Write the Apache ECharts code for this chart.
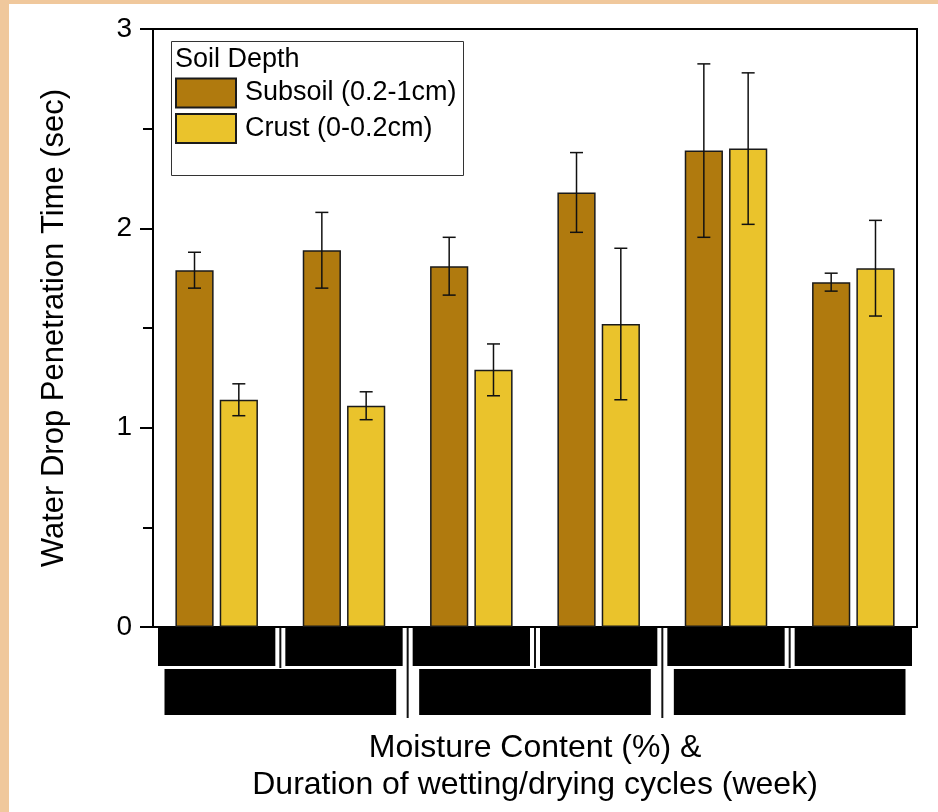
<!DOCTYPE html>
<html>
<head>
<meta charset="utf-8">
<script src="https://cdn.jsdelivr.net/npm/echarts@6/dist/echarts.min.js"></script>
<style>
  html, body { margin: 0; padding: 0; background: #ffffff; }
  #wrap { position: relative; width: 938px; height: 812px; background: #ffffff; overflow: hidden; }
  #stripTop { position: absolute; left: 0; top: 0; width: 938px; height: 4px; background: #F0C89C; }
  #stripLeft { position: absolute; left: 0; top: 0; width: 9px; height: 812px; background: #F0C89C; }
  #chart { position: absolute; left: 0; top: 0; width: 938px; height: 812px; }
</style>
</head>
<body>
<div id="wrap">
  <div id="stripTop"></div>
  <div id="stripLeft"></div>
  <div id="chart"></div>
</div>
<script>
// ---- data (category labels are obscured in the reference) ----
const categories = ['A1', 'A2', 'B1', 'B2', 'C1', 'C2'];
const groupLabels = ['A', 'B', 'C'];
const seriesNames = ['Subsoil (0.2-1cm)', 'Crust (0-0.2cm)'];
const subsoil = [1.79, 1.89, 1.81, 2.18, 2.39, 1.73];
const subsoilErr = [0.09, 0.19, 0.145, 0.20, 0.435, 0.045];
const crust = [1.14, 1.11, 1.29, 1.52, 2.40, 1.80];
const crustErr = [0.08, 0.07, 0.13, 0.38, 0.38, 0.24];
const yTicks = [0, 1, 2, 3];

const FONT = '"Liberation Sans", Arial, Helvetica, sans-serif';
const C_SUB = '#B07A0E';
const C_CRU = '#EAC32C';
const BAR_W = 0.30, BAR_GAP = 0.16;

const chart = echarts.init(document.getElementById('chart'), null, { renderer: 'canvas' });

function errSeries(vals, errs, sign) {
  return {
    type: 'custom',
    z: 5,
    silent: true,
    encode: { x: 0, y: 1 },
    data: vals.map((v, i) => [i, v, errs[i]]),
    renderItem: function (params, api) {
      const x = api.value(0), v = api.value(1), e = api.value(2);
      const band = api.size([1, 0])[0];
      const off = sign * band * BAR_W * (1 + BAR_GAP) / 2;
      const t = api.coord([x, v + e]);
      const b = api.coord([x, v - e]);
      const cx = t[0] + off;
      const cap = 6.5;
      const st = { stroke: '#111', lineWidth: 1.5 };
      return {
        type: 'group',
        children: [
          { type: 'line', shape: { x1: cx, y1: t[1], x2: cx, y2: b[1] }, style: st },
          { type: 'line', shape: { x1: cx - cap, y1: t[1], x2: cx + cap, y2: t[1] }, style: st },
          { type: 'line', shape: { x1: cx - cap, y1: b[1], x2: cx + cap, y2: b[1] }, style: st }
        ]
      };
    }
  };
}

const option = {
  animation: false,
  backgroundColor: 'transparent',
  textStyle: { fontFamily: FONT },
  grid: {
    left: 153, top: 29, right: 21, bottom: 185,
    show: true, borderColor: '#000', borderWidth: 2, backgroundColor: 'transparent'
  },
  legend: {
    orient: 'vertical',
    left: 175, top: 77.5,
    padding: 0,
    itemWidth: 60, itemHeight: 29, itemGap: 4.5,
    icon: 'rect',
    data: seriesNames,
    selectedMode: false,
    textStyle: { fontFamily: FONT, fontSize: 27, color: '#000', padding: [0, 0, 0, 4] }
  },
  xAxis: {
    type: 'category',
    data: categories,
    boundaryGap: true,
    axisLine: { show: true, lineStyle: { color: '#000', width: 2 } },
    axisTick: { show: false },
    axisLabel: { show: false },
    splitLine: { show: false },
    name: 'Moisture Content (%) &\nDuration of wetting/drying cycles (week)',
    nameLocation: 'middle',
    nameGap: 103,
    nameTextStyle: { fontFamily: FONT, fontSize: 32, color: '#000', lineHeight: 37 }
  },
  yAxis: {
    type: 'value',
    min: 0, max: 3, interval: 1,
    axisLine: { show: true, lineStyle: { color: '#000', width: 2 } },
    axisTick: { show: true, inside: false, length: 13, lineStyle: { color: '#000', width: 2 } },
    minorTick: { show: true, splitNumber: 2, length: 10, lineStyle: { color: '#000', width: 2 } },
    splitLine: { show: false },
    axisLabel: {
      margin: 21, fontFamily: FONT, fontSize: 28, color: '#000',
      formatter: function (v) { return yTicks.indexOf(v) >= 0 ? String(v) : ''; }
    },
    name: 'Water Drop Penetration Time (sec)',
    nameLocation: 'middle',
    nameGap: 83,
    nameRotate: 90,
    nameTextStyle: { fontFamily: FONT, fontSize: 31, color: '#000' }
  },
  series: [
    {
      name: seriesNames[0], type: 'bar', data: subsoil,
      barWidth: (BAR_W * 100) + '%', barGap: (BAR_GAP * 100) + '%',
      itemStyle: { color: C_SUB, borderColor: '#1a1a1a', borderWidth: 1.5 }
    },
    {
      name: seriesNames[1], type: 'bar', data: crust,
      barWidth: (BAR_W * 100) + '%', barGap: (BAR_GAP * 100) + '%',
      itemStyle: { color: C_CRU, borderColor: '#1a1a1a', borderWidth: 1.5 }
    },
    errSeries(subsoil, subsoilErr, -1),
    errSeries(crust, crustErr, 1)
  ]
};
chart.setOption(option);

// ---- obscured two-level category labels, located from the axis scale ----
(function () {
  const c0 = chart.convertToPixel({ xAxisIndex: 0 }, 0);
  const c1 = chart.convertToPixel({ xAxisIndex: 0 }, 1);
  const band = c1 - c0;
  const start = c0 - band / 2;
  const y0 = chart.convertToPixel({ yAxisIndex: 0 }, 0);
  const els = [];
  const row1H = 39, row2Top = y0 + 42, row2H = 46;
  categories.forEach(function (c, i) {
    const l = start + i * band;
    els.push({ type: 'rect', shape: { x: l + 5, y: y0, width: band - 10, height: row1H }, style: { fill: '#000' }, silent: true });
  });
  const per = categories.length / groupLabels.length;
  groupLabels.forEach(function (g, j) {
    const l = start + j * per * band;
    const w = per * band;
    els.push({ type: 'rect', shape: { x: l + 11.5, y: row2Top, width: w - 23, height: row2H }, style: { fill: '#000' }, silent: true });
  });
  for (let i = 1; i < categories.length; i++) {
    const x = start + i * band;
    const major = (i % per) === 0;
    els.push({ type: 'line', shape: { x1: x, y1: y0, x2: x, y2: major ? y0 + 91 : y0 + 41 }, style: { stroke: '#111', lineWidth: 2 }, silent: true });
  }
  // legend frame and title
  els.push({ type: 'rect', shape: { x: 171.5, y: 41.5, width: 292, height: 134 }, style: { fill: 'transparent', stroke: '#333', lineWidth: 1 }, silent: true, z: 1 });
  els.push({ type: 'text', x: 175, y: 60, style: { text: 'Soil Depth', fontFamily: FONT, fontSize: 27, fill: '#000', verticalAlign: 'middle', align: 'left' }, silent: true });
  chart.setOption({ graphic: els });
})();
</script>
</body>
</html>
